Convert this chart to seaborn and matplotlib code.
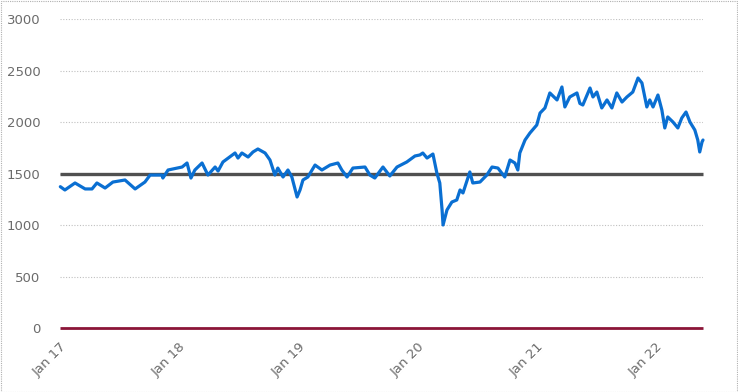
import matplotlib
matplotlib.use("Agg")
import matplotlib.pyplot as plt
import matplotlib.dates as mdates
import seaborn as sns
import pandas as pd
from matplotlib.patches import Rectangle

dates = [
    "2017-01-02", "2017-01-16", "2017-02-16", "2017-03-19", "2017-04-09", "2017-04-24",
    "2017-05-19", "2017-06-12", "2017-07-19", "2017-08-19", "2017-09-18", "2017-10-04",
    "2017-11-09", "2017-11-12", "2017-11-28", "2018-01-10", "2018-01-25", "2018-02-06",
    "2018-02-18", "2018-03-12", "2018-03-30", "2018-04-21", "2018-04-30", "2018-05-15",
    "2018-06-21", "2018-06-30", "2018-07-12", "2018-07-31", "2018-08-15", "2018-08-30",
    "2018-09-21", "2018-10-06", "2018-10-21", "2018-10-30", "2018-11-15", "2018-11-30",
    "2018-12-12", "2018-12-28", "2019-01-06", "2019-01-15", "2019-01-30", "2019-02-21",
    "2019-03-14", "2019-04-08", "2019-05-02", "2019-05-14", "2019-05-30", "2019-06-17",
    "2019-07-24", "2019-08-08", "2019-08-23", "2019-09-17", "2019-10-08", "2019-10-30",
    "2019-11-29", "2019-12-24", "2020-01-08", "2020-01-17", "2020-01-30", "2020-02-17",
    "2020-02-29", "2020-03-09", "2020-03-16", "2020-03-19", "2020-03-31", "2020-04-15",
    "2020-04-30", "2020-05-10", "2020-05-19", "2020-06-09", "2020-06-18", "2020-07-10",
    "2020-07-31", "2020-08-16", "2020-09-03", "2020-09-24", "2020-10-10", "2020-10-25",
    "2020-11-03", "2020-11-09", "2020-11-25", "2020-12-10", "2020-12-31", "2021-01-10",
    "2021-01-25", "2021-02-09", "2021-03-03", "2021-03-18", "2021-03-27", "2021-04-11",
    "2021-05-03", "2021-05-12", "2021-05-21", "2021-06-12", "2021-06-21", "2021-07-03",
    "2021-07-18", "2021-08-03", "2021-08-18", "2021-09-02", "2021-09-18", "2021-10-03",
    "2021-10-21", "2021-11-06", "2021-11-18", "2021-12-03", "2021-12-12", "2021-12-22",
    "2022-01-06", "2022-01-18", "2022-01-27", "2022-02-05", "2022-02-21", "2022-03-08",
    "2022-03-20", "2022-04-02", "2022-04-14", "2022-04-29", "2022-05-08", "2022-05-14",
    "2022-05-21", "2022-05-24",
]
values = [
    1372, 1340, 1408, 1350, 1350, 1408,
    1359, 1417, 1437, 1350, 1417, 1485,
    1485, 1456, 1534, 1563, 1602, 1456,
    1534, 1602, 1485, 1563, 1524, 1612,
    1699, 1650, 1699, 1660, 1709, 1738,
    1699, 1631, 1485, 1553, 1466, 1534,
    1466, 1272, 1340, 1437, 1466, 1582,
    1534, 1582, 1602, 1534, 1466, 1553,
    1563, 1485, 1456, 1563, 1476, 1563,
    1612, 1670, 1680, 1699, 1650, 1689,
    1505, 1408, 1146, 1000, 1146, 1223,
    1243, 1340, 1311, 1515, 1408, 1417,
    1485, 1563, 1553, 1466, 1631, 1602,
    1534, 1699, 1825, 1893, 1971, 2087,
    2136, 2282, 2214, 2340, 2146, 2243,
    2282, 2180, 2165, 2330, 2243, 2291,
    2136, 2214, 2136, 2282, 2194, 2243,
    2291, 2427, 2379, 2146, 2214, 2146,
    2262, 2117, 1942, 2049, 2000, 1942,
    2039, 2097, 2000, 1922, 1825, 1709,
    1806, 1825,
]
reference_level = 1500
zero_level = 0
y_ticks = [0, 500, 1000, 1500, 2000, 2500, 3000]
x_tick_dates = ["2017-01-01", "2018-01-01", "2019-01-01", "2020-01-01", "2021-01-01", "2022-01-01"]
x_tick_labels = ["Jan 17", "Jan 18", "Jan 19", "Jan 20", "Jan 21", "Jan 22"]

df = pd.DataFrame({"date": pd.to_datetime(dates), "value": values})

sns.set_theme(style="white")
plt.rcParams["font.family"] = ["DejaVu Sans"]

fig = plt.figure(figsize=(7.38, 3.92), dpi=100)
ax = fig.add_axes([60 / 738, (392 - 328) / 392, (703 - 60) / 738, (328 - 19) / 392])

start = pd.Timestamp("2017-01-01")
end = df["date"].iloc[-1]

ax.hlines(y_ticks[1:], start, end, colors="#c0c0c0", linestyles=(0, (1, 1.5)), linewidth=0.8, zorder=0)
ax.hlines([reference_level], start, end, colors="#505050", linewidth=2.4, zorder=2, clip_on=False)
ax.hlines([zero_level], start, end, colors="#8b1538", linewidth=2.0, zorder=2, clip_on=False)

sns.lineplot(data=df, x="date", y="value", ax=ax, color="#0a6fd2", linewidth=2.3, zorder=3)
for l in ax.lines:
    l.set_clip_on(False)

ax.set_xlim(start, end)
ax.set_ylim(0, 3000)
ax.set_yticks(y_ticks)
ax.set_yticklabels([str(v) for v in y_ticks], color="#6b6b6b", fontsize=9.5)
ax.set_xticks(pd.to_datetime(x_tick_dates))
ax.set_xticklabels(x_tick_labels, color="#6b6b6b", fontsize=9.5, rotation=45,
                   ha="right", rotation_mode="anchor")
ax.tick_params(axis="y", length=0, pad=14)
ax.tick_params(axis="x", length=3, color="#c0c0c0", pad=6, width=0.8)
ax.set_xlabel("")
ax.set_ylabel("")
for s in ax.spines.values():
    s.set_visible(False)
ax.grid(False)

fig.patches.append(Rectangle((0.001, 0.001), 0.997, 0.997, transform=fig.transFigure,
                             fill=False, edgecolor="#b0b0b0", linewidth=0.8,
                             linestyle=(0, (1, 1))))

fig.savefig("out.png", dpi=100)
